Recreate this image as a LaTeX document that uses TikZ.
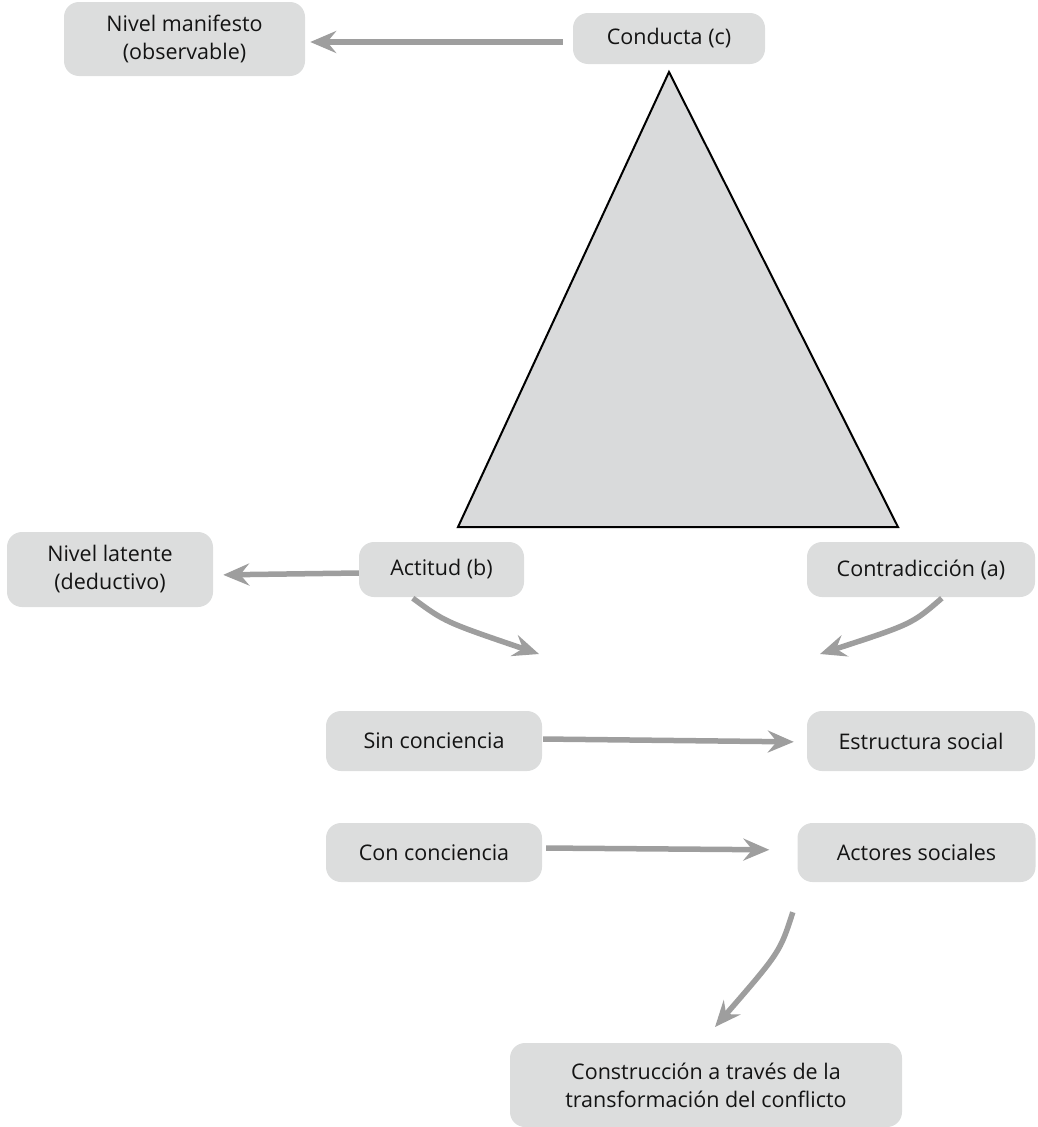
\documentclass[tikz,border=0pt]{standalone}
\usepackage{fontspec}
\setmainfont{Open Sans}
\usetikzlibrary{arrows.meta,calc}
\definecolor{boxgray}{HTML}{DCDDDD}
\definecolor{trigray}{HTML}{D9DADB}
\definecolor{arrgray}{HTML}{9E9E9E}
\tikzset{
  box/.style={fill=boxgray, draw=none, rounded corners=15pt, align=center,
    inner sep=0pt, font=\fontsize{21.5}{28}\selectfont, text=black!92},
  arr/.style={draw=arrgray, line width=5.5pt,
    -{Stealth[length=26pt,width=22pt,inset=9pt]}},
}
\begin{document}
\begin{tikzpicture}[x=1pt,y=-1pt]
\useasboundingbox (0,0) rectangle (1037,1127);

% central triangle
\draw[fill=trigray, line width=2pt, line join=miter]
  (669,72) -- (898,527) -- (458,527) -- cycle;

% boxes
\node[box, minimum width=241pt, minimum height=74pt] (man) at (184.5,39) {Nivel manifesto\\(observable)};
\node[box, minimum width=192pt, minimum height=51pt] (cond) at (669,38.5) {Conducta (c)};
\node[box, minimum width=206pt, minimum height=75pt] (lat) at (110,569.5) {Nivel latente\\(deductivo)};
\node[box, minimum width=165pt, minimum height=55pt] (act) at (441.5,569.5) {Actitud (b)};
\node[box, minimum width=228pt, minimum height=55pt] (contra) at (921,569.5) {Contradicción (a)};
\node[box, minimum width=216pt, minimum height=60pt] (sin) at (434,741) {Sin conciencia};
\node[box, minimum width=228pt, minimum height=60pt] (estr) at (921,741) {Estructura social};
\node[box, minimum width=216pt, minimum height=59pt] (con) at (434,852.5) {Con conciencia};
\node[box, minimum width=238pt, minimum height=59pt] (actores) at (916.5,852.5) {Actores sociales};
\node[box, minimum width=392pt, minimum height=84pt] (cons) at (706,1085) {Construcción a través de la\\transformación del conflicto};

% free ends of the lower arrows
\coordinate (pb) at (539,654);
\coordinate (pa) at (820,654);
\coordinate (pc) at (715,1027);

% connectors
\draw[arr, shorten <=10pt, shorten >=5pt] ($(cond.west)+(0,3.5)$) -- ($(man.east)+(0,3)$);
\draw[arr, shorten >=10pt] ($(act.west)+(0,3.5)$) -- ($(lat.east)+(0,5.5)$);
\draw[arr] ($(act.south west)+(54,1)$) .. controls (445,622) .. (pb);
\draw[arr] ($(contra.south west)+(135,1)$) .. controls (912,624) .. (pa);
\draw[arr, shorten <=1pt, shorten >=13pt] ($(sin.east)+(0,-2)$) -- ($(estr.west)+(0,1)$);
\draw[arr, shorten <=4pt, shorten >=28pt] ($(con.east)+(0,-4.5)$) -- ($(actores.west)+(0,-2.5)$);
\draw[arr] ($(actores.south west)+(-4.5,30)$) .. controls (780,952) .. (pc);
\end{tikzpicture}
\end{document}
